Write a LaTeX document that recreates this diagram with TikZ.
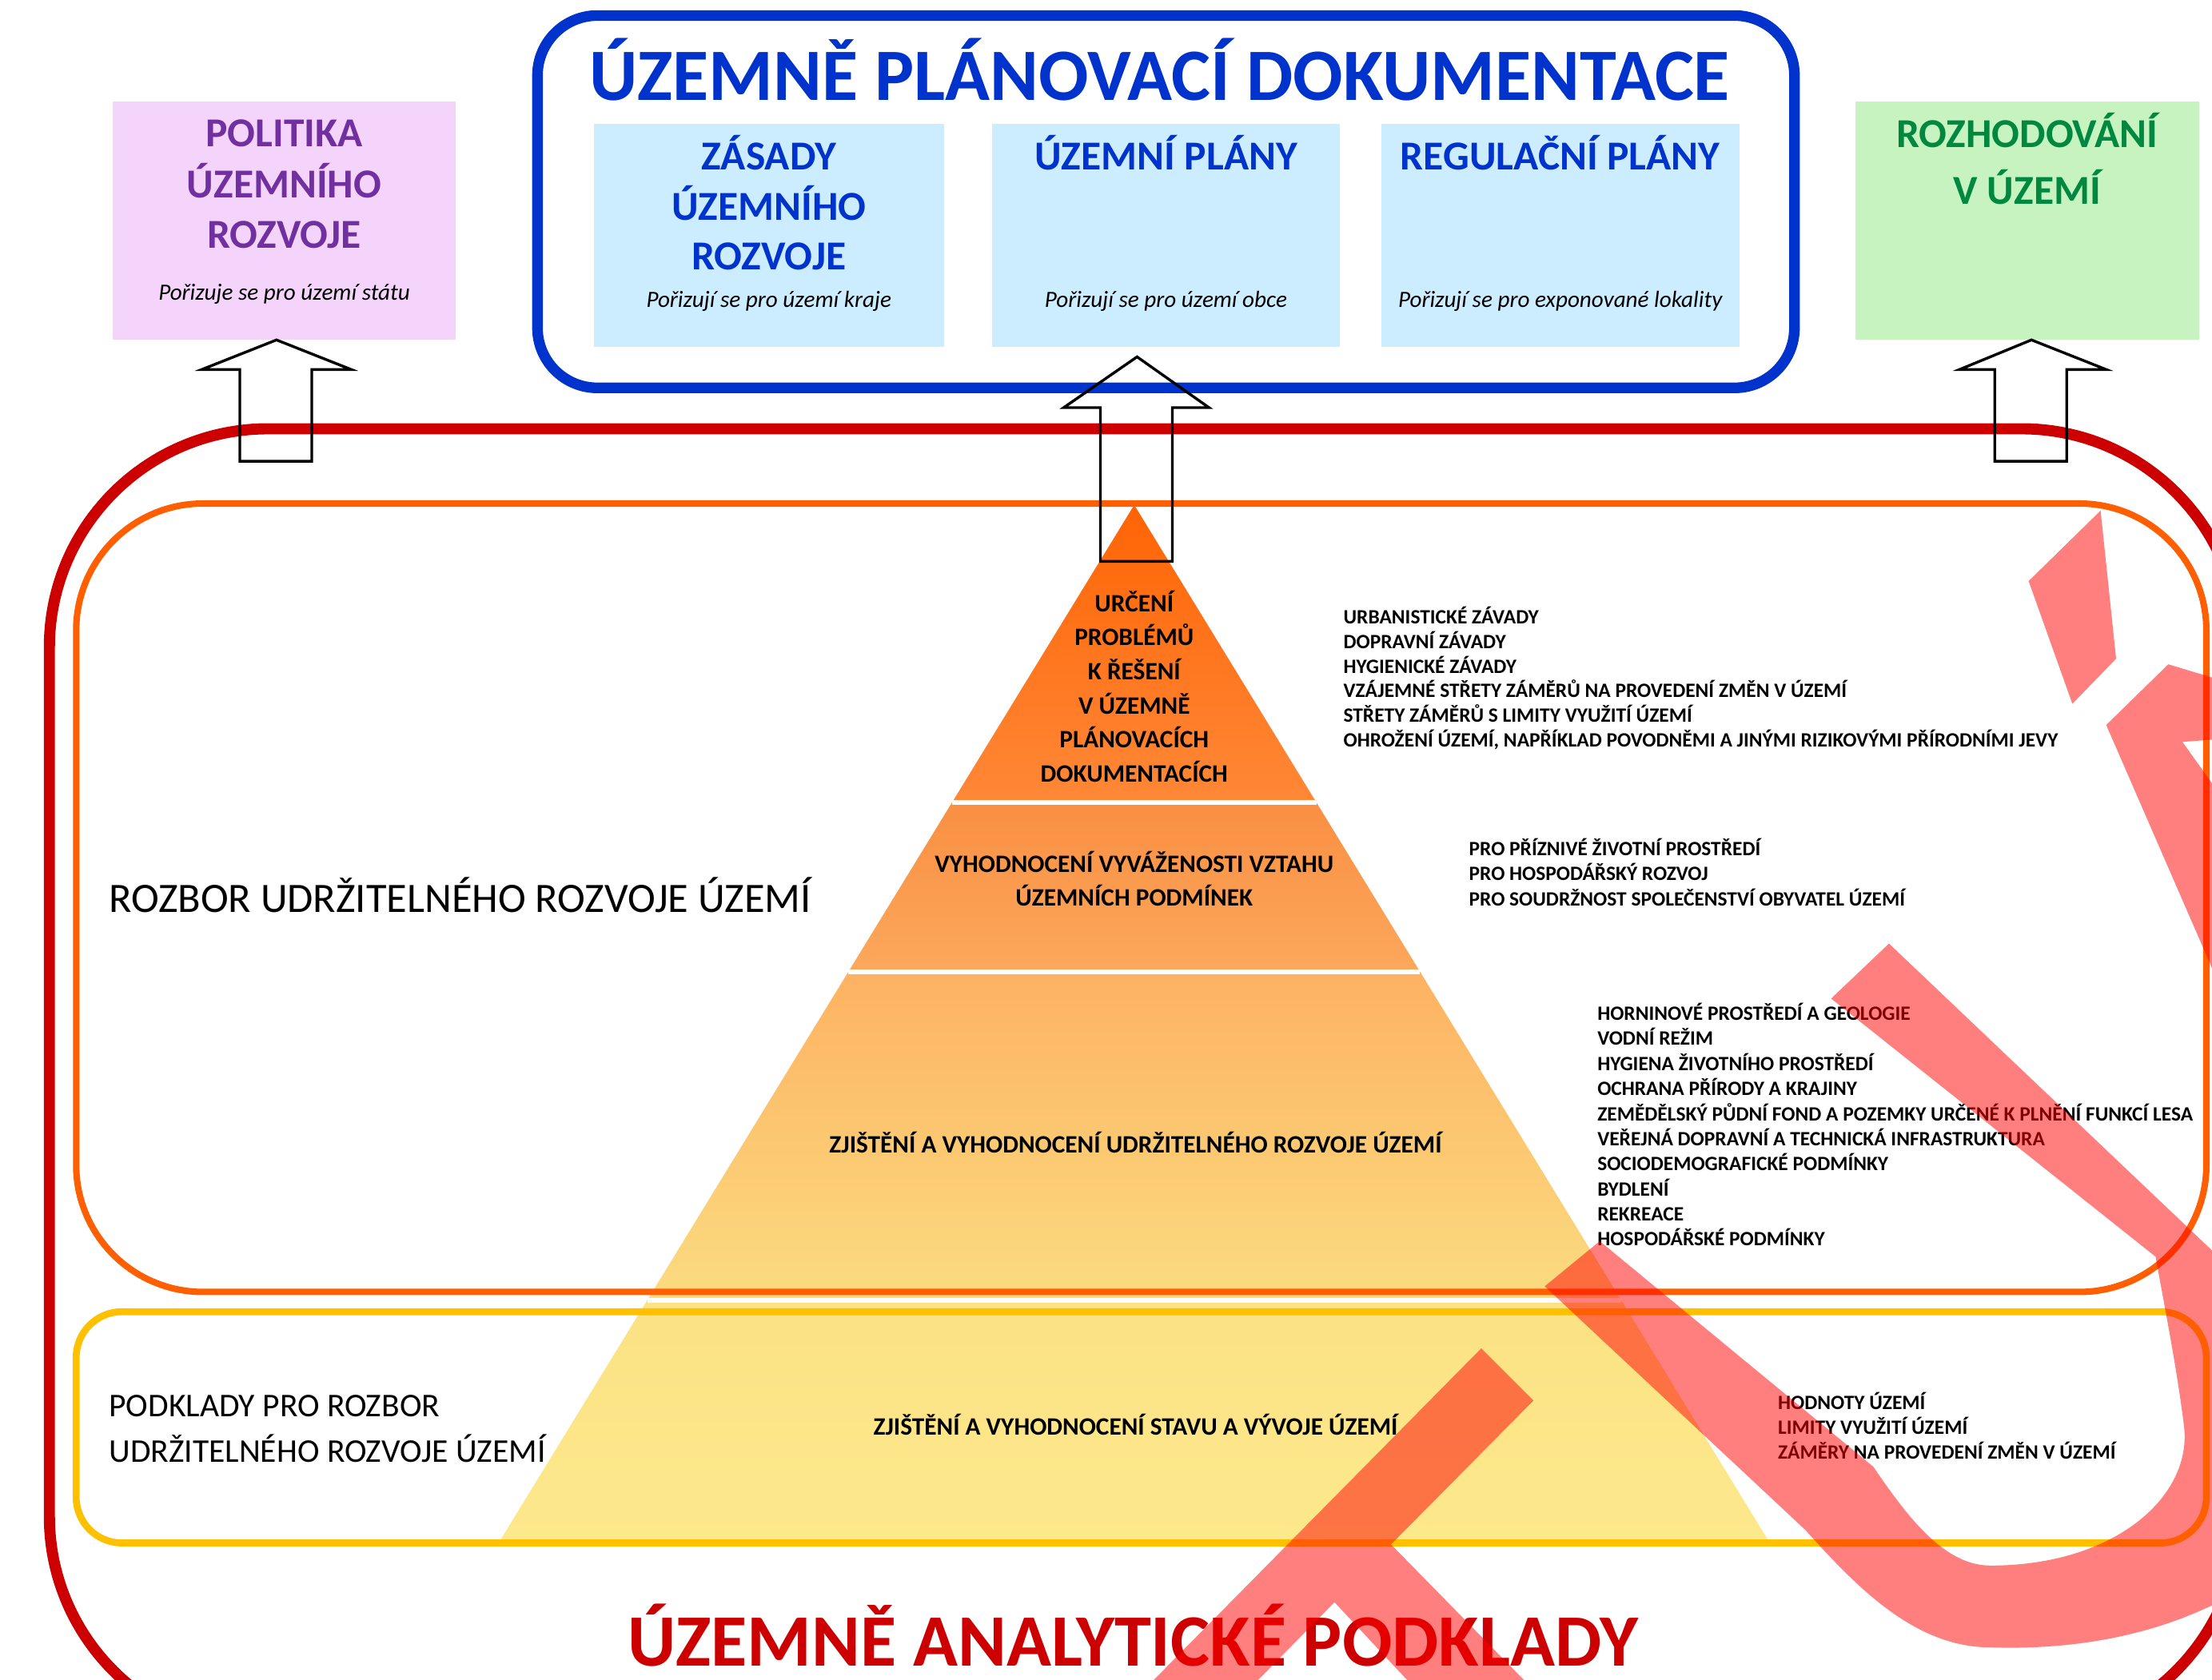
\documentclass[tikz,border=0pt]{standalone}
\usepackage{fontspec}
\setmainfont{Carlito}
\definecolor{updblue}{RGB}{0,51,204}
\definecolor{boxblue}{RGB}{204,236,255}
\definecolor{boxpink}{RGB}{244,212,251}
\definecolor{boxgreen}{RGB}{199,243,193}
\definecolor{purp}{RGB}{112,48,160}
\definecolor{grn}{RGB}{0,136,62}
\definecolor{uapred}{RGB}{204,0,0}
\definecolor{rozbor}{RGB}{255,95,0}
\definecolor{podklady}{RGB}{255,192,0}
\definecolor{py1}{RGB}{255,100,5}
\definecolor{py2}{RGB}{255,136,55}
\definecolor{py3}{RGB}{249,143,66}
\definecolor{py4}{RGB}{252,168,92}
\definecolor{py5}{RGB}{253,178,98}
\definecolor{py6}{RGB}{251,220,128}
\definecolor{py7}{RGB}{251,226,132}
\definecolor{py8}{RGB}{252,233,140}
\begin{document}
\begin{tikzpicture}[x=0.02cm,y=-0.02cm,
ttl/.style={inner sep=0,anchor=base,font=\fontsize{29.8}{34}\selectfont\bfseries},
bttl/.style={inner sep=0,anchor=base,font=\fontsize{16.6}{19}\selectfont\bfseries},
sub/.style={inner sep=0,anchor=base,font=\fontsize{9.4}{11}\selectfont\itshape},
pyr/.style={inner sep=0,anchor=base,font=\fontsize{10.1}{12}\selectfont\bfseries},
lst/.style={inner sep=0,anchor=base west,font=\fontsize{8.2}{9}\selectfont\bfseries},
arr/.style={draw,line width=1.1pt},
wm/.style={fill=red,fill opacity=0.5}]
\useasboundingbox(0,0)rectangle(1568,1191);
\clip(0,0)rectangle(1568,1191);
\fill[boxpink](80,72)rectangle(323,241);
\fill[boxgreen](1315,72)rectangle(1559,241);
\foreach \a/\b in {421/669,703/950,979/1233}{\fill[boxblue](\a,88)rectangle(\b,246);}
\draw[updblue,line width=4.3pt,rounded corners=0.85cm](381,11)rectangle(1272,275);
\foreach \ya/\yb/\ca/\cb in {358/569/py1/py2,569/689/py3/py4,689/922/py5/py6,922/1094/py7/py8}
  {\shade[top color=\ca,bottom color=\cb]({804-0.6122*(\ya-358)},\ya)--({804+0.6122*(\ya-358)},\ya)--({804+0.6122*(\yb-358)},\yb)--({804-0.6122*(\yb-358)},\yb)--cycle;}
\foreach \y in {569,689,922}{\draw[white,line width=2pt]({804-0.6122*(\y-358)},\y)--({804+0.6122*(\y-358)},\y);}
\draw[uapred,line width=4.5pt,rounded corners=3.1cm](35,304)rectangle(1588,1230);
\draw[rozbor,line width=2.6pt,rounded corners=1.8cm](54,357)rectangle(1564,916);
\draw[podklady,line width=2.8pt,rounded corners=0.65cm](54,930)rectangle(1564,1094);
\draw[arr](170,327)--(170,262)--(143,262)--(196,241)--(249,262)--(221,262)--(221,327)--cycle;
\draw[arr](780,398)--(780,289)--(754,289)--(806,253)--(857,289)--(831,289)--(831,398)--cycle;
\draw[arr](1414,327)--(1414,262)--(1389,262)--(1440,241)--(1493,262)--(1465,262)--(1465,327)--cycle;
\node[ttl,text=updblue](updtitle) at (822,71){ÚZEMNĚ PLÁNOVACÍ DOKUMENTACE};
\node[ttl,text=uapred](uaptitle) at (803,1181){ÚZEMNĚ ANALYTICKÉ PODKLADY};
\foreach \txt/\y [count=\i] in {POLITIKA/104.2,ÚZEMNÍHO/140.2,ROZVOJE/176.2}{\node[bttl,text=purp](pur\i) at (201.5,\y){\txt};}
\foreach \txt/\y [count=\i] in {ZÁSADY/120.5,ÚZEMNÍHO/156.3,ROZVOJE/191.5}{\node[bttl,text=updblue](zur\i) at (545,\y){\txt};}
\node[bttl,text=updblue](up) at (826.5,120.5){ÚZEMNÍ PLÁNY};
\node[bttl,text=updblue](rp) at (1106,120.5){REGULAČNÍ PLÁNY};
\foreach \txt/\y [count=\i] in {ROZHODOVÁNÍ/104.3,V ÚZEMÍ/145}{\node[bttl,text=grn](rvu\i) at (1437,\y){\txt};}
\node[sub](purpor) at (201.5,213){Pořizuje se pro území státu};
\node[sub](zurpor) at (545,218){Pořizují se pro území kraje};
\node[sub](uppor) at (826.5,218){Pořizují se pro území obce};
\node[sub](rppor) at (1106,218){Pořizují se pro exponované lokality};
\node[inner sep=0,anchor=base west,font=\fontsize{16.9}{20}\selectfont](rozbor) at (77,647){ROZBOR UDRŽITELNÉHO ROZVOJE ÚZEMÍ};
\foreach \txt/\y [count=\i] in {PODKLADY PRO ROZBOR/1004.5,UDRŽITELNÉHO ROZVOJE ÚZEMÍ/1036.5}{\node[inner sep=0,anchor=base west,font=\fontsize{13.4}{16}\selectfont](podklady\i) at (77,\y){\txt};}
\foreach \txt [count=\i] in {URČENÍ,PROBLÉMŮ,K ŘEŠENÍ,V ÚZEMNĚ,PLÁNOVACÍCH,DOKUMENTACÍCH}{\node[pyr](urceni\i) at (804,{433.5+24.2*(\i-1)}){\txt};}
\foreach \txt [count=\i] in {VYHODNOCENÍ VYVÁŽENOSTI VZTAHU,ÚZEMNÍCH PODMÍNEK}{\node[pyr](vyvazenost\i) at (804,{618.5+24*(\i-1)}){\txt};}
\node[pyr](udrzitelnost) at (805,817.5){ZJIŠTĚNÍ A VYHODNOCENÍ UDRŽITELNÉHO ROZVOJE ÚZEMÍ};
\node[pyr](stav) at (805,1017.5){ZJIŠTĚNÍ A VYHODNOCENÍ STAVU A VÝVOJE ÚZEMÍ};
\foreach \txt [count=\i] in {URBANISTICKÉ ZÁVADY,DOPRAVNÍ ZÁVADY,HYGIENICKÉ ZÁVADY,VZÁJEMNÉ STŘETY ZÁMĚRŮ NA PROVEDENÍ ZMĚN V ÚZEMÍ,STŘETY ZÁMĚRŮ S LIMITY VYUŽITÍ ÚZEMÍ,{OHROŽENÍ ÚZEMÍ, NAPŘÍKLAD POVODNĚMI A JINÝMI RIZIKOVÝMI PŘÍRODNÍMI JEVY}}
  {\node[lst](zavady\i) at (952,{442.4+17.4*(\i-1)}){\txt};}
\foreach \txt [count=\i] in {PRO PŘÍZNIVÉ ŽIVOTNÍ PROSTŘEDÍ,PRO HOSPODÁŘSKÝ ROZVOJ,PRO SOUDRŽNOST SPOLEČENSTVÍ OBYVATEL ÚZEMÍ}
  {\node[lst](pilir\i) at (1041,{606.4+18*(\i-1)}){\txt};}
\foreach \txt [count=\i] in {HORNINOVÉ PROSTŘEDÍ A GEOLOGIE,VODNÍ REŽIM,HYGIENA ŽIVOTNÍHO PROSTŘEDÍ,OCHRANA PŘÍRODY A KRAJINY,ZEMĚDĚLSKÝ PŮDNÍ FOND A POZEMKY URČENÉ K PLNĚNÍ FUNKCÍ LESA,VEŘEJNÁ DOPRAVNÍ A TECHNICKÁ INFRASTRUKTURA,SOCIODEMOGRAFICKÉ PODMÍNKY,BYDLENÍ,REKREACE,HOSPODÁŘSKÉ PODMÍNKY}
  {\node[lst](tema\i) at (1132,{723.4+17.78*(\i-1)}){\txt};}
\foreach \txt [count=\i] in {HODNOTY ÚZEMÍ,LIMITY VYUŽITÍ ÚZEMÍ,ZÁMĚRY NA PROVEDENÍ ZMĚN V ÚZEMÍ}
  {\node[lst](stavy\i) at (1260,{999.4+17.5*(\i-1)}){\txt};}
\fill[wm](1050,956)--(1087,993)--(986,1095)--(1085,1196)--(1002,1196)--(946,1136)--(887,1196)--(813,1196)--cycle
 (1438,412)--(1489,362)--(1500,467)--(1469,499)--cycle
 (1493,514)--(1537,471)--(1600,490)--(1600,522)--(1547,526)--(1600,600)--(1600,760)--cycle
 (1298,708)--(1339,669)--(1600,917)--(1600,1120) .. controls (1540,1160) and (1470,1170) .. (1411,1168) .. controls (1360,1168) and (1320,1130) .. (1280,1085)--(1095,912)--(1134,880)--(1328,1040) .. controls (1355,1080) and (1380,1110) .. (1411,1110) .. controls (1500,1110) and (1555,1060) .. (1548,1010) .. controls (1543,970) and (1535,930) .. (1528,891)--cycle;
\end{tikzpicture}
\end{document}
